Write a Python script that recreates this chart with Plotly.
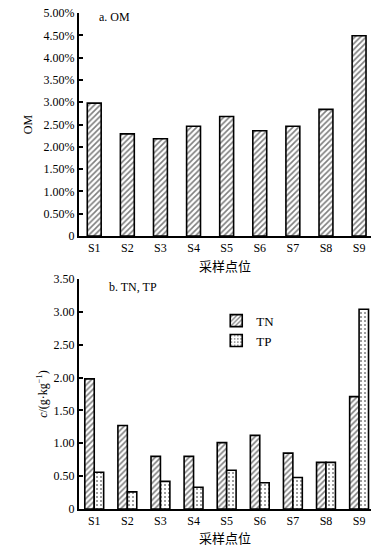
import plotly.graph_objects as go

sites = ["S1", "S2", "S3", "S4", "S5", "S6", "S7", "S8", "S9"]
om_values = [2.98, 2.29, 2.18, 2.46, 2.68, 2.36, 2.46, 2.84, 4.49]
tn_values = [1.98, 1.27, 0.80, 0.80, 1.01, 1.12, 0.85, 0.71, 1.71]
tp_values = [0.56, 0.26, 0.42, 0.33, 0.59, 0.40, 0.48, 0.71, 3.04]
om_tickvals = [0, 0.5, 1.0, 1.5, 2.0, 2.5, 3.0, 3.5, 4.0, 4.5, 5.0]
om_ticktext = ["0", "0.50%", "1.00%", "1.50%", "2.00%", "2.50%", "3.00%", "3.50%", "4.00%", "4.50%", "5.00%"]
c_tickvals = [0, 0.5, 1.0, 1.5, 2.0, 2.5, 3.0, 3.5]
c_ticktext = ["0", "0.50", "1.00", "1.50", "2.00", "2.50", "3.00", "3.50"]

FONT = "Liberation Serif"

fig = go.Figure()
fig.add_trace(go.Bar(
    x=sites, y=om_values, xaxis="x", yaxis="y", width=0.42, showlegend=False,
    marker=dict(color="white", line=dict(color="black", width=1.6),
                pattern=dict(shape="/", fgcolor="black", bgcolor="white", size=4, solidity=0.4)),
))
fig.add_trace(go.Bar(
    x=sites, y=tn_values, xaxis="x2", yaxis="y2", name="TN", legendgroup="a",
    marker=dict(color="white", line=dict(color="black", width=1.6),
                pattern=dict(shape="/", fgcolor="black", bgcolor="white", size=4, solidity=0.4)),
))
fig.add_trace(go.Bar(
    x=sites, y=tp_values, xaxis="x2", yaxis="y2", name="TP", legendgroup="b",
    marker=dict(color="white", line=dict(color="black", width=1.6),
                pattern=dict(shape=".", fgcolor="black", bgcolor="white", size=4, solidity=0.2)),
))

xcommon = dict(type="category", range=[-0.46, 8.36], showline=True, linecolor="black", linewidth=2,
               ticks="", tickfont=dict(size=12, family=FONT, color="black"), showgrid=False,
               zeroline=False, fixedrange=True, automargin=False, ticklabeloverflow="allow")
ycommon = dict(showline=True, linecolor="black", linewidth=2, ticks="inside", ticklen=4, tickwidth=2,
               tickcolor="black", tickfont=dict(size=12, family=FONT, color="black"), showgrid=False,
               zeroline=False, automargin=False, ticklabeloverflow="allow")

fig.update_layout(
    width=388, height=553,
    margin=dict(l=79, r=17, t=13, b=44, autoexpand=False),
    paper_bgcolor="white", plot_bgcolor="white",
    barmode="group", bargap=0.43, bargroupgap=0,
    font=dict(family=FONT, color="black", size=12),
    xaxis=dict(xcommon, anchor="y", title=dict(text="采样点位", font=dict(size=13, family="Noto Sans CJK SC"), standoff=7)),
    yaxis=dict(ycommon, domain=[0.5504, 1.0], range=[0, 5.0], tickvals=om_tickvals, ticktext=om_ticktext,
               anchor="x", title=dict(text="OM", font=dict(size=12), standoff=8)),
    xaxis2=dict(xcommon, anchor="y2", title=dict(text="采样点位", font=dict(size=13, family="Noto Sans CJK SC"), standoff=5)),
    yaxis2=dict(ycommon, domain=[0, 0.4637], range=[0, 3.5], tickvals=c_tickvals, ticktext=c_ticktext,
                anchor="x2", title=dict(text="<i>c</i>/(g·kg<sup>−1</sup>)", font=dict(size=12), standoff=3)),
    legend=dict(x=0.47, y=0.41, xanchor="left", yanchor="top", bgcolor="rgba(0,0,0,0)",
                font=dict(size=13, family=FONT), tracegroupgap=0, itemwidth=30),
    annotations=[
        dict(text="a. OM", xref="paper", yref="paper", x=0.06, y=1.01, xanchor="left", yanchor="top",
             showarrow=False, font=dict(size=12, family=FONT)),
        dict(text="b. TN, TP", xref="paper", yref="paper", x=0.095, y=0.466, xanchor="left", yanchor="top",
             showarrow=False, font=dict(size=12, family=FONT)),
    ],
)

fig.write_html("out.html", config={"displayModeBar": False},
               post_script="document.body.style.margin='0';")
